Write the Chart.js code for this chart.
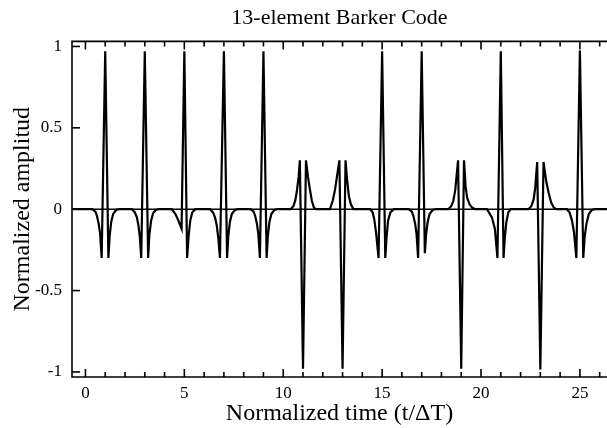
<!DOCTYPE html>
<html>
<head>
<meta charset="utf-8">
<script src="https://cdn.jsdelivr.net/npm/chart.js@4/dist/chart.umd.min.js"></script>
<style>
  html, body { margin: 0; padding: 0; background: #fff; }
  canvas { display: block; }
</style>
</head>
<body>
<canvas id="c" width="607" height="428"></canvas>
<script>
// ---- Chart text ----
const chartTitle = '13-element Barker Code';
const xTitle = 'Normalized time (t/\u0394T)';
const yTitle = 'Normalized amplitud';

// ---- Axes ----
const xRange = [-0.68, 26.37];
const yRange = [-1.031, 1.031];
const xTickValues = [0, 5, 10, 15, 20, 25];
const xMinorTickValues = [0,1,2,3,4,5,6,7,8,9,10,11,12,13,14,15,16,17,18,19,20,21,22,23,24,25,26];
const yTickValues = [-1, -0.5, 0, 0.5, 1];
const yTickLabels = ['-1', '-0.5', '0', '0.5', '1'];

// ---- Waveform samples [time, amplitude] ----
const waveform = [
  [-0.7, 0],
  // chip 1 (+) at t=1
  [0.35, 0], [0.5, -0.015], [0.58, -0.04], [0.67, -0.09], [0.74, -0.15], [0.82, -0.3],
  [1.0, 0.97], [1.16, -0.3], [1.22, -0.17], [1.3, -0.08], [1.4, -0.03], [1.55, -0.005], [1.7, 0],
  // chip 2 (+) at t=3
  [2.35, 0], [2.5, -0.02], [2.6, -0.05], [2.68, -0.1], [2.75, -0.17], [2.82, -0.3],
  [3.0, 0.97], [3.17, -0.3], [3.23, -0.16], [3.32, -0.07], [3.42, -0.025], [3.55, -0.005], [3.7, 0],
  // chip 3 (+) at t=5
  [4.36, 0], [4.55, -0.03], [4.7, -0.07], [4.86, -0.12],
  [5.0, 0.97], [5.14, -0.3], [5.22, -0.16], [5.3, -0.07], [5.4, -0.02], [5.55, 0],
  // chip 4 (+) at t=7
  [6.3, 0], [6.45, -0.02], [6.55, -0.05], [6.64, -0.1], [6.72, -0.18], [6.8, -0.3],
  [7.0, 0.97], [7.16, -0.3], [7.22, -0.17], [7.3, -0.08], [7.4, -0.03], [7.55, -0.005], [7.7, 0],
  // chip 5 (+) at t=9
  [8.35, 0], [8.5, -0.015], [8.58, -0.04], [8.67, -0.09], [8.74, -0.15], [8.82, -0.3],
  [9.0, 0.97], [9.16, -0.3], [9.22, -0.17], [9.3, -0.08], [9.4, -0.03], [9.55, -0.005], [9.7, 0],
  // chip 6 (-) at t=11
  [10.38, 0], [10.52, 0.02], [10.62, 0.06], [10.7, 0.12], [10.78, 0.2], [10.84, 0.3],
  [11.0, -0.98], [11.15, 0.3], [11.25, 0.2], [11.35, 0.12], [11.45, 0.05], [11.55, 0.01], [11.65, 0],
  // chip 7 (-) at t=13
  [12.36, 0], [12.5, 0.05], [12.62, 0.12], [12.74, 0.22], [12.84, 0.3],
  [13.0, -0.98], [13.15, 0.3], [13.23, 0.18], [13.32, 0.08], [13.42, 0.03], [13.55, 0],
  // chip 8 (+) at t=15
  [14.4, 0], [14.52, -0.02], [14.6, -0.06], [14.7, -0.15], [14.82, -0.3],
  [15.0, 0.97], [15.16, -0.3], [15.22, -0.18], [15.3, -0.07], [15.42, -0.02], [15.6, 0],
  // chip 9 (+) at t=17
  [16.35, 0], [16.5, -0.015], [16.58, -0.04], [16.67, -0.09], [16.74, -0.15], [16.82, -0.3],
  [17.0, 0.97], [17.16, -0.27], [17.22, -0.16], [17.3, -0.08], [17.4, -0.03], [17.55, -0.005], [17.7, 0],
  // chip 10 (-) at t=19
  [18.35, 0], [18.5, 0.02], [18.6, 0.05], [18.7, 0.12], [18.84, 0.3],
  [19.0, -0.98], [19.14, 0.3], [19.22, 0.14], [19.3, 0.07], [19.42, 0.03], [19.55, 0.01], [19.7, 0],
  // chip 11 (+) at t=21
  [20.3, 0], [20.55, -0.05], [20.7, -0.12], [20.83, -0.3],
  [21.0, 0.97], [21.14, -0.3], [21.2, -0.18], [21.28, -0.08], [21.38, -0.02], [21.5, 0],
  // chip 12 (-) at t=23
  [22.4, 0], [22.55, 0.02], [22.66, 0.06], [22.74, 0.13], [22.84, 0.29],
  [23.0, -0.985], [23.16, 0.29], [23.3, 0.17], [23.42, 0.1], [23.55, 0.04], [23.68, 0.01], [23.8, 0],
  // chip 13 (+) at t=25
  [24.35, 0], [24.48, -0.02], [24.6, -0.07], [24.7, -0.14], [24.82, -0.3],
  [25.0, 0.975], [25.17, -0.3], [25.24, -0.17], [25.33, -0.09], [25.45, -0.03], [25.6, -0.005], [25.75, 0],
  [26.4, 0]
];

const FONT = "'Liberation Serif', 'Times New Roman', serif";

const framePlugin = {
  id: 'frame',
  afterDatasetsDraw(chart) {
    const { ctx, chartArea, scales } = chart;
    const { left, right, top, bottom } = chartArea;
    const xs = scales.x, ys = scales.y;
    ctx.save();
    ctx.strokeStyle = '#000';
    ctx.lineCap = 'butt';
    // zero reference line
    ctx.lineWidth = 1.5;
    const y0 = ys.getPixelForValue(0);
    ctx.beginPath(); ctx.moveTo(left, y0); ctx.lineTo(right, y0); ctx.stroke();
    // frame: left, top, bottom
    ctx.lineWidth = 1.6;
    ctx.beginPath();
    ctx.moveTo(right, top); ctx.lineTo(left, top); ctx.lineTo(left, bottom); ctx.lineTo(right, bottom);
    ctx.stroke();
    // x ticks (inside, top and bottom)
    ctx.lineWidth = 1.6;
    xMinorTickValues.forEach(v => {
      const px = xs.getPixelForValue(v);
      if (px < left || px > right) return;
      const len = xTickValues.includes(v) ? 8 : 5;
      ctx.beginPath();
      ctx.moveTo(px, bottom); ctx.lineTo(px, bottom - len);
      ctx.moveTo(px, top); ctx.lineTo(px, top + len);
      ctx.stroke();
    });
    // y ticks (inside, left)
    yTickValues.forEach(v => {
      const py = ys.getPixelForValue(v);
      ctx.beginPath(); ctx.moveTo(left, py); ctx.lineTo(left + 8, py); ctx.stroke();
    });
    ctx.restore();
  }
};

new Chart(document.getElementById('c'), {
  type: 'line',
  data: {
    datasets: [{
      data: waveform.map(([t, a]) => ({ x: t, y: a })),
      borderColor: '#000',
      borderWidth: 2.2,
      pointRadius: 0,
      tension: 0,
      fill: false
    }]
  },
  options: {
    responsive: false,
    animation: false,
    devicePixelRatio: 1,
    layout: { padding: { left: 0, right: 0, top: 0, bottom: 0 } },
    plugins: {
      legend: { display: false },
      tooltip: { enabled: false },
      title: {
        display: true,
        fullSize: false,
        text: chartTitle,
        color: '#000',
        font: { family: FONT, size: 22, weight: 'normal' },
        padding: { top: 5, bottom: 10 }
      }
    },
    scales: {
      x: {
        type: 'linear',
        min: xRange[0],
        max: xRange[1],
        afterBuildTicks: s => { s.ticks = xTickValues.map(v => ({ value: v })); },
        afterFit: s => { s.height = 51; },
        grid: { display: false, drawTicks: false },
        border: { display: false },
        ticks: { color: '#000', font: { family: FONT, size: 17 }, padding: 6, maxRotation: 0, autoSkip: false },
        title: { display: true, text: xTitle, color: '#000', font: { family: FONT, size: 24 }, padding: { top: 0, bottom: 0 } }
      },
      y: {
        type: 'linear',
        min: yRange[0],
        max: yRange[1],
        afterBuildTicks: s => { s.ticks = yTickValues.map(v => ({ value: v })); },
        afterFit: s => { s.width = 72; },
        grid: { display: false, drawTicks: false },
        border: { display: false },
        ticks: {
          color: '#000', font: { family: FONT, size: 17 }, padding: 10,
          callback: v => { const i = yTickValues.indexOf(v); return i >= 0 ? yTickLabels[i] : ''; }
        },
        title: { display: true, text: yTitle, color: '#000', font: { family: FONT, size: 24 }, padding: { top: 8, bottom: 0 } }
      }
    }
  },
  plugins: [framePlugin]
});
</script>
</body>
</html>
